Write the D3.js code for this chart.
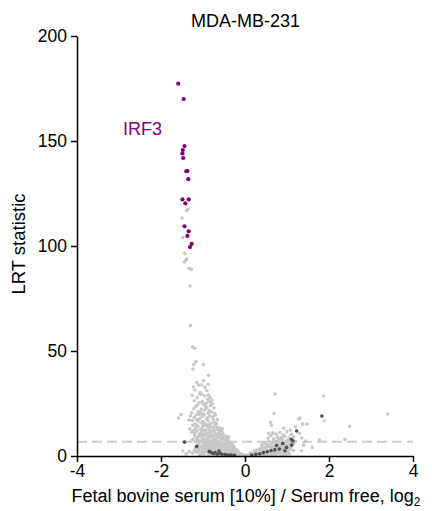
<!DOCTYPE html>
<html>
<head>
<meta charset="utf-8">
<script src="https://cdn.jsdelivr.net/npm/d3@7"></script>
<style>
  html, body { margin: 0; padding: 0; background: #fff; }
  svg { display: block; font-family: "Liberation Sans", Arial, sans-serif; }
</style>
</head>
<body>
<svg id="chart" width="432" height="511"></svg>
<script>
// Volcano plot: log2 fold change (FBS 10% vs serum free) against LRT statistic
const title = "MDA-MB-231";
const xLabel = "Fetal bovine serum [10%] / Serum free, log";
const xLabelSub = "2";
const yLabel = "LRT statistic";
const hitLabel = "IRF3";
const xTicks = [-4, -2, 0, 2, 4];
const yTicks = [0, 50, 100, 150, 200];
const cutoff = 6.8;

// IRF3 target hits (log2 ratio, LRT)
const hits = [
  [-1.59,177.3],[-1.46,170.0],[-1.44,147.6],[-1.48,145.7],[-1.49,144.1],[-1.47,141.9],
  [-1.37,135.7],[-1.40,135.6],[-1.35,131.8],[-1.49,122.2],[-1.34,122.2],[-1.42,120.3],
  [-1.44,109.4],[-1.34,107.0],[-1.37,104.8],[-1.27,101.0],[-1.31,99.5]
];

// all other proteins
const others = [
  [-1.39,116.8],[-1.36,117.5],[-1.50,113.3],[-1.48,104.1],[-1.43,96.5],[-1.39,93.8],
  [-1.40,93.3],[-1.44,92.4],[-1.33,89.4],[-1.28,88.9],[-1.31,81.0],[-1.30,62.2],
  [-1.25,52.0],[-1.20,51.3],[-1.17,44.8],[-1.22,43.6],[-0.99,43.6],[-1.24,41.4],[-0.87,38.4],
  [-1.19,31.4],[-1.11,33.8],[-1.03,33.8],[-0.99,35.9],[-0.95,32.7],[-0.91,31.1],[-1.07,30.2],
  [-1.15,35.0],[-0.88,34.2],[-1.23,33.0],
  [-1.07,29.5],[-1.03,29.4],[-0.87,29.0],[-0.83,28.0],[-0.89,27.0],[-0.79,26.7],[-1.02,25.9],
  [-1.14,27.8],[-1.21,26.3],[-0.96,28.6],[-1.09,25.4],[-0.92,25.2],[-1.26,28.9],[-0.84,25.8],
  [-0.99,24.6],[-0.95,23.9],[-0.91,23.1],[-0.82,24.1],[-0.78,24.9],[-0.74,23.0],[-1.04,22.3],
  [-1.27,20.6],[-1.11,21.1],[-0.85,21.6],[-0.79,21.0],[-0.88,20.4],[-1.17,23.7],[-1.06,20.8],
  [-0.96,21.9],[-1.22,22.5],[-0.72,20.2],[-1.00,20.1],[-0.93,22.7],[-1.13,24.3],
  [-1.30,19.2],[-1.21,18.4],[-1.16,19.6],[-1.08,17.9],[-1.02,18.8],[-0.97,19.5],[-0.90,18.1],
  [-0.84,19.0],[-0.77,18.6],[-0.71,19.4],[-0.66,17.3],[-0.73,16.2],[-0.81,15.6],[-0.88,16.9],
  [-0.94,15.3],[-1.00,16.4],[-1.05,15.8],[-1.12,16.7],[-1.19,15.2],[-1.25,16.9],[-1.33,17.1],
  [-0.68,15.4],[-0.76,17.5],[-0.92,17.7],[-1.09,19.9],[-0.99,15.1],[-0.86,15.0],[-1.15,17.4],
  [-1.24,14.6],[-1.18,13.2],[-1.12,14.1],[-1.06,12.7],[-1.01,13.9],[-0.96,12.3],[-0.91,14.4],
  [-0.86,13.1],[-0.81,12.0],[-0.76,13.6],[-0.71,14.8],[-0.66,12.6],[-0.61,13.4],[-0.56,11.8],
  [-0.52,10.6],[-0.58,10.2],[-0.63,11.1],[-0.69,10.4],[-0.74,11.5],[-0.79,10.1],[-0.84,11.3],
  [-0.89,10.7],[-0.94,11.7],[-0.99,10.3],[-1.04,11.0],[-1.09,10.5],[-1.14,11.9],[-1.20,10.8],
  [-1.27,11.4],[-1.31,12.9],[-1.22,12.1],[-1.16,14.9],[-0.98,14.7],[-0.83,14.2],[-0.68,14.0],
  [-0.60,12.2],[-0.73,12.4],[-0.88,12.8],[-1.03,12.2],[-0.54,13.0],
  [-1.20,9.6],[-1.15,8.3],[-1.11,9.1],[-1.07,7.2],[-1.02,8.7],[-0.98,6.6],[-0.95,9.8],
  [-0.91,7.9],[-0.87,6.3],[-0.84,8.9],[-0.80,7.4],[-0.76,9.3],[-0.73,6.8],[-0.69,8.1],
  [-0.65,9.7],[-0.62,7.0],[-0.58,8.5],[-0.55,6.4],[-0.51,9.0],[-0.48,7.6],[-0.44,6.2],
  [-0.41,8.2],[-0.38,6.9],[-0.35,6.1],[-0.46,9.4],[-0.53,7.8],[-0.60,6.0],[-0.67,6.7],
  [-0.71,9.9],[-0.78,6.2],[-0.82,9.5],[-0.89,8.4],[-0.93,6.9],[-1.00,7.6],[-1.04,9.9],
  [-1.09,6.5],[-1.13,7.7],[-1.18,6.8],[-1.24,8.0],[-0.97,8.0],[-0.86,7.1],[-0.75,8.0],
  [-0.64,8.8],[-0.57,9.6],[-0.49,8.6],[-0.43,7.3],[-0.39,9.1],[-1.28,7.0],[-0.66,6.3],[-0.88,9.9],
  [-1.10,5.6],[-1.05,4.2],[-1.01,5.1],[-0.97,3.4],[-0.93,4.7],[-0.90,5.9],[-0.86,3.8],
  [-0.83,5.3],[-0.79,4.4],[-0.76,3.1],[-0.72,5.7],[-0.69,4.0],[-0.66,5.0],[-0.62,3.5],
  [-0.59,4.6],[-0.56,5.8],[-0.52,3.2],[-0.49,4.9],[-0.46,3.9],[-0.43,5.4],[-0.40,4.3],
  [-0.37,3.3],[-0.34,5.0],[-0.31,4.1],[-0.28,3.2],[-0.25,3.8],[-0.22,3.1],[-0.30,5.6],
  [-0.36,4.7],[-0.41,3.6],[-0.47,5.9],[-0.53,4.4],[-0.58,3.3],[-0.64,4.3],[-0.70,3.5],
  [-0.74,4.8],[-0.81,3.5],[-0.88,4.5],[-0.95,5.5],[-0.99,4.2],[-1.03,3.3],[-1.08,3.9],
  [-1.14,4.6],[-1.19,3.5],[-0.61,5.5],[-0.67,5.9],[-0.78,5.6],[-0.85,5.8],[-0.50,5.5],
  [-0.44,4.5],[-0.33,3.7],[-0.27,4.6],[-0.55,3.8],[-0.91,3.2],[-0.72,4.1],
  [-1.20,2.7],[-1.15,1.8],[-1.10,2.5],[-1.06,1.2],[-1.02,2.2],[-0.98,0.8],[-0.95,1.9],
  [-0.91,2.8],[-0.88,1.4],[-0.85,2.4],[-0.82,0.9],[-0.79,1.9],[-0.76,2.7],[-0.73,1.3],
  [-0.70,2.2],[-0.67,0.7],[-0.64,1.7],[-0.61,2.6],[-0.58,1.1],[-0.55,2.0],[-0.52,0.6],
  [-0.49,1.5],[-0.46,2.5],[-0.43,1.0],[-0.40,1.9],[-0.37,0.5],[-0.34,1.4],[-0.31,2.3],
  [-0.28,0.9],[-0.25,1.7],[-0.22,0.4],[-0.19,1.2],[-0.16,2.0],[-0.13,0.7],[-0.10,1.1],
  [-0.07,0.3],[-0.04,0.6],[-0.02,0.1],[-0.18,2.6],[-0.23,2.8],[-0.29,2.9],[-0.35,2.7],
  [-0.41,2.9],[-0.47,0.4],[-0.53,2.9],[-0.60,0.3],[-0.66,2.9],[-0.72,0.4],[-0.80,2.9],
  [-0.87,0.5],[-0.94,2.8],[-1.00,1.5],[-1.08,0.6],[-1.13,2.9],[-1.25,1.3],[-1.33,2.1],
  [-1.48,2.4],[-1.58,18.1],[-1.52,19.7],[-1.40,1.0],
  [0.02,0.1],[0.05,0.4],[0.08,0.2],[0.11,0.7],[0.14,0.3],[0.17,1.0],[0.20,0.5],[0.23,1.3],
  [0.26,0.6],[0.29,1.6],[0.32,0.9],[0.35,1.8],[0.38,0.4],[0.41,1.2],[0.44,1.9],[0.47,0.7],
  [0.50,1.5],[0.53,0.3],[0.56,1.1],[0.59,1.8],[0.62,0.6],[0.65,1.4],[0.68,0.8],[0.71,1.7],
  [0.74,0.5],[0.77,1.3],[0.80,1.9],[0.83,0.9],[0.86,1.6],[0.89,0.4],[0.92,1.2],[0.95,1.8],
  [0.98,0.7],[1.02,1.4],[1.06,0.9],[0.13,1.5],[0.25,1.9],[0.37,1.1],[0.49,0.2],[0.61,1.9],
  [0.22,2.2],[0.27,2.8],[0.31,2.4],[0.34,3.3],[0.38,2.6],[0.42,3.7],[0.45,2.1],[0.48,4.1],
  [0.51,3.0],[0.54,4.6],[0.57,2.5],[0.60,3.9],[0.63,4.8],[0.66,2.9],[0.69,4.3],[0.72,3.4],
  [0.75,2.3],[0.78,4.7],[0.81,3.6],[0.84,2.7],[0.87,4.4],[0.90,3.1],[0.93,4.9],[0.96,2.4],
  [0.99,3.8],[1.02,4.5],[1.05,2.9],[1.08,3.6],[1.11,4.8],[1.15,2.6],[0.40,4.4],[0.46,3.5],
  [0.53,2.2],[0.59,4.4],[0.65,3.6],[0.71,2.2],[0.77,3.2],[0.85,3.4],[0.95,4.1],[1.01,2.3],
  [0.40,5.3],[0.46,6.1],[0.52,5.6],[0.57,7.0],[0.61,5.2],[0.64,6.4],[0.68,7.6],[0.72,5.8],
  [0.75,6.9],[0.79,5.4],[0.82,7.3],[0.86,6.2],[0.89,7.9],[0.93,5.7],[0.97,6.8],[1.00,7.5],
  [1.04,5.5],[1.08,6.6],[1.12,7.8],[1.16,5.9],[1.20,6.9],[0.55,5.1],[0.70,6.3],[0.84,5.2],[0.98,5.2],
  [0.55,8.6],[0.62,9.7],[0.69,8.3],[0.74,10.4],[0.78,9.1],[0.83,11.2],[0.87,8.8],[0.91,10.1],
  [0.95,9.4],[1.00,11.6],[1.05,8.5],[1.10,10.3],[1.16,9.2],[0.66,11.0],[0.80,8.2],[0.56,10.8],
  [0.69,20.3],[0.72,29.5],[0.61,16.0],[0.63,14.6],[1.28,17.6],[1.37,15.2],[1.47,15.2],
  [1.87,28.6],[1.88,16.8],[3.40,20.0],[2.49,14.1],[2.38,7.9],[1.77,7.6],[1.60,4.1],
  [1.44,7.1],[0.92,13.2],[1.08,12.4],[1.20,13.8],[1.30,10.8],[1.35,8.6],[1.40,5.2],
  [1.35,2.5],[1.31,18.1],[0.83,2.9]
];

// proteins highlighted in dark grey
const marked = [
  [-1.44,6.6],[-1.15,4.6],[-0.81,1.8],[-0.76,1.2],[-0.71,1.6],[-0.66,0.9],[-0.60,1.3],
  [-0.55,0.8],[-0.47,0.7],[-0.40,0.5],[-0.33,0.4],[-0.25,0.3],[-0.62,2.4],[-0.85,2.2],
  [0.16,0.5],[0.26,0.8],[0.35,1.1],[0.44,1.6],[0.53,2.0],[0.62,2.5],[0.71,2.9],[0.82,3.3],
  [0.90,6.0],[0.99,4.1],[1.11,5.2],[1.14,7.2],[1.10,8.0],[1.23,11.9],[1.83,19.0],[0.95,2.5],[0.75,5.0]
];

const svg = d3.select("#chart");
const x = d3.scaleLinear().domain([-4, 4]).range([77, 413]);
const y = d3.scaleLinear().domain([0, 200]).range([456, 36]);

// significance cutoff
svg.append("line")
  .attr("x1", x(-4)).attr("x2", x(4))
  .attr("y1", y(cutoff)).attr("y2", y(cutoff))
  .attr("stroke", "#cccccc").attr("stroke-width", 2)
  .attr("stroke-dasharray", "10,5");

const pts = svg.append("g");
pts.selectAll("circle.o").data(others).join("circle")
  .attr("class", "o")
  .attr("cx", d => x(d[0])).attr("cy", d => y(d[1]))
  .attr("r", 1.8).attr("fill", "#c8c8c8");
pts.selectAll("circle.m").data(marked).join("circle")
  .attr("class", "m")
  .attr("cx", d => x(d[0])).attr("cy", d => y(d[1]))
  .attr("r", 1.8).attr("fill", "#505050");
pts.selectAll("circle.h").data(hits).join("circle")
  .attr("class", "h")
  .attr("cx", d => x(d[0])).attr("cy", d => y(d[1]))
  .attr("r", 2.1).attr("fill", "#800080");

// axes
const fmt = d => String(d);
const gx = svg.append("g").attr("transform", `translate(0,${y(0)})`)
  .call(d3.axisBottom(x).tickValues(xTicks).tickFormat(fmt).tickSize(6).tickSizeOuter(0).tickPadding(3));
const gy = svg.append("g").attr("transform", `translate(${x(-4)},0)`)
  .call(d3.axisLeft(y).tickValues(yTicks).tickFormat(fmt).tickSize(6).tickSizeOuter(0).tickPadding(4));
[gx, gy].forEach(g => {
  g.selectAll("path, line").attr("stroke", "#000").attr("stroke-width", 1.5);
  g.selectAll("text").attr("font-size", 17.5).attr("fill", "#000")
    .attr("font-family", "Liberation Sans, Arial, sans-serif");
});

// texts
svg.append("text").attr("x", 245.5).attr("y", 26.5).attr("text-anchor", "middle")
  .attr("font-size", 18).text(title);

svg.append("text")
  .attr("transform", "translate(25,244) rotate(-90)")
  .attr("text-anchor", "middle").attr("font-size", 18.5).text(yLabel);

const xl = svg.append("text").attr("x", 246).attr("y", 502)
  .attr("text-anchor", "middle").attr("font-size", 18);
xl.append("tspan").text(xLabel);
xl.append("tspan").attr("dy", 4).attr("font-size", 12).text(xLabelSub);

svg.append("text").attr("x", 123).attr("y", 135)
  .attr("font-size", 18).attr("fill", "#800080").text(hitLabel);
</script>
</body>
</html>
